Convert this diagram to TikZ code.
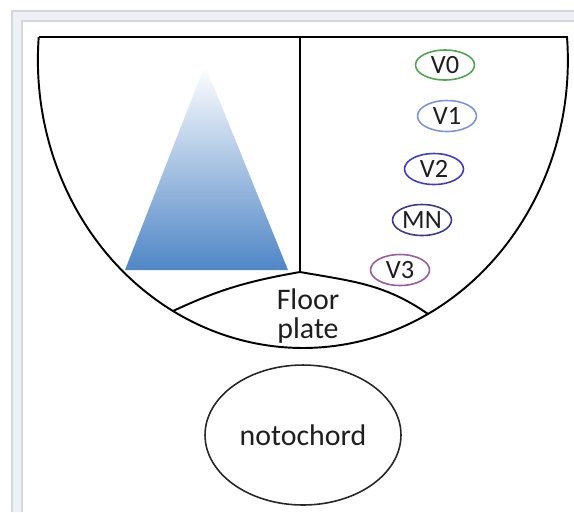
\documentclass[tikz,border=0pt]{standalone}
\usepackage{fontspec}
\setmainfont{Carlito}
\usepackage{tikz}
\usetikzlibrary{positioning,shapes.geometric}
\definecolor{framegrey}{HTML}{D3D7DF}
\definecolor{framefill}{HTML}{EEF0F4}
\definecolor{triblue}{HTML}{4F86C6}
\definecolor{txtgrey}{HTML}{1E1E1E}
\definecolor{vzero}{HTML}{4FA550}
\definecolor{vone}{HTML}{7B96D8}
\definecolor{vtwo}{HTML}{3C3CD0}
\definecolor{mnblue}{HTML}{3A3A8C}
\definecolor{vthree}{HTML}{9A5A9E}

\begin{document}
\begin{tikzpicture}[x=0.02cm,y=0.02cm]
\useasboundingbox (0,0) rectangle (574,-512);

% window frame
\fill[framefill] (12,-512) -- (12,-11) -- (574,-11) -- (574,-21) -- (22,-21) -- (22,-512) -- cycle;
\draw[framegrey, line width=1.2pt] (12,-512) -- (12,-11) -- (574,-11);
\draw[framegrey, line width=1.2pt] (22,-512) -- (22,-21) -- (574,-21);

\shade[top color=white, bottom color=triblue]
  (205,-65) -- (125,-270) -- (288,-270) -- cycle;

\draw[line width=1.1pt] (39,-37) -- (567,-37)
  arc[start angle=4.58, end angle=-184.58, x radius=265, y radius=288];

\coordinate (divtop) at (300,-37);
\coordinate (peak) at (300,-272);
\coordinate (fpl) at (173,-311);
\coordinate (fpr) at (428,-314);

\draw[line width=1.1pt] (divtop) -- (peak);
\draw[line width=1.1pt] (fpl) to[out=25, in=190] (peak) to[out=-10, in=145] (fpr);

\node[
  text=txtgrey,
  font=\fontsize{17}{17}\selectfont,
  align=center
] (floorplate) at (308,-316) {Floor\\plate};

\node[
  draw=vzero,
  ellipse,
  line width=0.9pt,
  minimum width=1.18cm,
  minimum height=0.6cm,
  inner sep=0pt,
  text=txtgrey,
  font=\fontsize{15}{15}\selectfont
] (vzero) at (445,-65) {V0};

\node[
  draw=vone,
  ellipse,
  line width=0.9pt,
  minimum width=1.18cm,
  minimum height=0.62cm,
  inner sep=0pt,
  text=txtgrey,
  font=\fontsize{15}{15}\selectfont
] (vone) at (447,-116) {V1};

\node[
  draw=vtwo,
  ellipse,
  line width=0.9pt,
  minimum width=1.18cm,
  minimum height=0.62cm,
  inner sep=0pt,
  text=txtgrey,
  font=\fontsize{15}{15}\selectfont
] (vtwo) at (434,-169) {V2};

\node[
  draw=mnblue,
  ellipse,
  line width=0.9pt,
  minimum width=1.18cm,
  minimum height=0.62cm,
  inner sep=0pt,
  text=txtgrey,
  font=\fontsize{15}{15}\selectfont
] (mn) at (422,-220) {MN};

\node[
  draw=vthree,
  ellipse,
  line width=0.9pt,
  minimum width=1.18cm,
  minimum height=0.62cm,
  inner sep=0pt,
  text=txtgrey,
  font=\fontsize{15}{15}\selectfont
] (vthree) at (400,-270) {V3};

\node[
  draw=black!85,
  ellipse,
  line width=0.9pt,
  minimum width=3.92cm,
  minimum height=2.8cm,
  text=txtgrey,
  font=\fontsize{17}{17}\selectfont
] (notochord) at (303,-435) {notochord};
\end{tikzpicture}
\end{document}
